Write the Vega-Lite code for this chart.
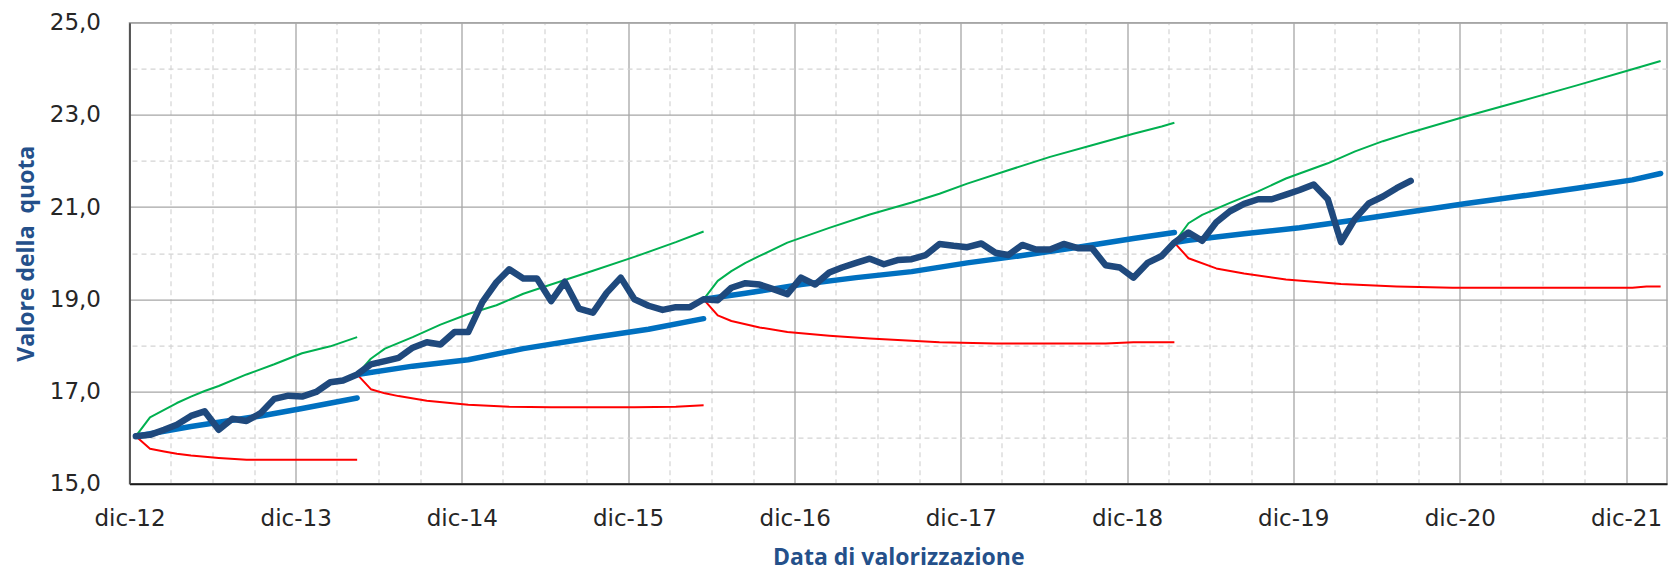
{
  "$schema": "https://vega.github.io/schema/vega-lite/v6.json",
  "width": 1537.5,
  "height": 461,
  "autosize": "none",
  "padding": {"left": 129.5, "top": 22.7, "right": 2, "bottom": 87.3},
  "background": "white",
  "config": {"view": {"stroke": "#A6A6A6", "strokeWidth": 1.5}},
  "data": {"values": [
    {"d":"2012-12-15","s":"quota","g":0,"v":16.03},{"d":"2013-01-15","s":"quota","g":0,"v":16.06},{"d":"2013-02-15","s":"quota","g":0,"v":16.17},{"d":"2013-03-15","s":"quota","g":0,"v":16.28},{"d":"2013-04-15","s":"quota","g":0,"v":16.47},{"d":"2013-05-15","s":"quota","g":0,"v":16.57},{"d":"2013-06-15","s":"quota","g":0,"v":16.17},{"d":"2013-07-15","s":"quota","g":0,"v":16.41},{"d":"2013-08-15","s":"quota","g":0,"v":16.36},{"d":"2013-09-15","s":"quota","g":0,"v":16.53},{"d":"2013-10-15","s":"quota","g":0,"v":16.84},{"d":"2013-11-15","s":"quota","g":0,"v":16.91},{"d":"2013-12-15","s":"quota","g":0,"v":16.89},
    {"d":"2014-01-15","s":"quota","g":0,"v":16.99},{"d":"2014-02-15","s":"quota","g":0,"v":17.20},{"d":"2014-03-15","s":"quota","g":0,"v":17.24},{"d":"2014-04-15","s":"quota","g":0,"v":17.37},{"d":"2014-05-15","s":"quota","g":0,"v":17.59},{"d":"2014-06-15","s":"quota","g":0,"v":17.66},{"d":"2014-07-15","s":"quota","g":0,"v":17.73},{"d":"2014-08-15","s":"quota","g":0,"v":17.95},{"d":"2014-09-15","s":"quota","g":0,"v":18.07},{"d":"2014-10-15","s":"quota","g":0,"v":18.02},{"d":"2014-11-15","s":"quota","g":0,"v":18.29},{"d":"2014-12-15","s":"quota","g":0,"v":18.29},
    {"d":"2015-01-15","s":"quota","g":0,"v":18.94},{"d":"2015-02-15","s":"quota","g":0,"v":19.37},{"d":"2015-03-15","s":"quota","g":0,"v":19.65},{"d":"2015-04-15","s":"quota","g":0,"v":19.45},{"d":"2015-05-15","s":"quota","g":0,"v":19.45},{"d":"2015-06-15","s":"quota","g":0,"v":18.96},{"d":"2015-07-15","s":"quota","g":0,"v":19.38},{"d":"2015-08-15","s":"quota","g":0,"v":18.80},{"d":"2015-09-15","s":"quota","g":0,"v":18.71},{"d":"2015-10-15","s":"quota","g":0,"v":19.14},{"d":"2015-11-15","s":"quota","g":0,"v":19.47},{"d":"2015-12-15","s":"quota","g":0,"v":19.00},
    {"d":"2016-01-15","s":"quota","g":0,"v":18.86},{"d":"2016-02-15","s":"quota","g":0,"v":18.77},{"d":"2016-03-15","s":"quota","g":0,"v":18.83},{"d":"2016-04-15","s":"quota","g":0,"v":18.83},{"d":"2016-05-15","s":"quota","g":0,"v":19.00},{"d":"2016-06-15","s":"quota","g":0,"v":18.98},{"d":"2016-07-15","s":"quota","g":0,"v":19.25},{"d":"2016-08-15","s":"quota","g":0,"v":19.35},{"d":"2016-09-15","s":"quota","g":0,"v":19.32},{"d":"2016-10-15","s":"quota","g":0,"v":19.22},{"d":"2016-11-15","s":"quota","g":0,"v":19.11},{"d":"2016-12-15","s":"quota","g":0,"v":19.47},
    {"d":"2017-01-15","s":"quota","g":0,"v":19.32},{"d":"2017-02-15","s":"quota","g":0,"v":19.58},{"d":"2017-03-15","s":"quota","g":0,"v":19.69},{"d":"2017-04-15","s":"quota","g":0,"v":19.79},{"d":"2017-05-15","s":"quota","g":0,"v":19.88},{"d":"2017-06-15","s":"quota","g":0,"v":19.76},{"d":"2017-07-15","s":"quota","g":0,"v":19.85},{"d":"2017-08-15","s":"quota","g":0,"v":19.87},{"d":"2017-09-15","s":"quota","g":0,"v":19.96},{"d":"2017-10-15","s":"quota","g":0,"v":20.20},{"d":"2017-11-15","s":"quota","g":0,"v":20.16},{"d":"2017-12-15","s":"quota","g":0,"v":20.13},
    {"d":"2018-01-15","s":"quota","g":0,"v":20.21},{"d":"2018-02-15","s":"quota","g":0,"v":20.01},{"d":"2018-03-15","s":"quota","g":0,"v":19.96},{"d":"2018-04-15","s":"quota","g":0,"v":20.18},{"d":"2018-05-15","s":"quota","g":0,"v":20.08},{"d":"2018-06-15","s":"quota","g":0,"v":20.08},{"d":"2018-07-15","s":"quota","g":0,"v":20.20},{"d":"2018-08-15","s":"quota","g":0,"v":20.11},{"d":"2018-09-15","s":"quota","g":0,"v":20.11},{"d":"2018-10-15","s":"quota","g":0,"v":19.74},{"d":"2018-11-15","s":"quota","g":0,"v":19.69},{"d":"2018-12-15","s":"quota","g":0,"v":19.47},
    {"d":"2019-01-15","s":"quota","g":0,"v":19.79},{"d":"2019-02-15","s":"quota","g":0,"v":19.94},{"d":"2019-03-15","s":"quota","g":0,"v":20.23},{"d":"2019-04-15","s":"quota","g":0,"v":20.45},{"d":"2019-05-15","s":"quota","g":0,"v":20.27},{"d":"2019-06-15","s":"quota","g":0,"v":20.67},{"d":"2019-07-15","s":"quota","g":0,"v":20.91},{"d":"2019-08-15","s":"quota","g":0,"v":21.07},{"d":"2019-09-15","s":"quota","g":0,"v":21.17},{"d":"2019-10-15","s":"quota","g":0,"v":21.17},{"d":"2019-11-15","s":"quota","g":0,"v":21.27},{"d":"2019-12-15","s":"quota","g":0,"v":21.37},
    {"d":"2020-01-15","s":"quota","g":0,"v":21.49},{"d":"2020-02-15","s":"quota","g":0,"v":21.17},{"d":"2020-03-15","s":"quota","g":0,"v":20.24},{"d":"2020-04-15","s":"quota","g":0,"v":20.75},{"d":"2020-05-15","s":"quota","g":0,"v":21.08},{"d":"2020-06-15","s":"quota","g":0,"v":21.23},{"d":"2020-07-15","s":"quota","g":0,"v":21.41},{"d":"2020-08-15","s":"quota","g":0,"v":21.57},

    {"d":"2012-12-15","s":"atteso","g":1,"v":16.03},{"d":"2013-04-15","s":"atteso","g":1,"v":16.24},{"d":"2013-09-15","s":"atteso","g":1,"v":16.47},{"d":"2013-12-15","s":"atteso","g":1,"v":16.63},{"d":"2014-04-15","s":"atteso","g":1,"v":16.86},
    {"d":"2014-04-15","s":"atteso","g":2,"v":17.37},{"d":"2014-08-15","s":"atteso","g":2,"v":17.55},{"d":"2014-12-15","s":"atteso","g":2,"v":17.69},{"d":"2015-04-15","s":"atteso","g":2,"v":17.93},{"d":"2015-09-15","s":"atteso","g":2,"v":18.17},{"d":"2016-01-15","s":"atteso","g":2,"v":18.35},{"d":"2016-05-15","s":"atteso","g":2,"v":18.58},
    {"d":"2016-05-15","s":"atteso","g":3,"v":19.00},{"d":"2016-08-15","s":"atteso","g":3,"v":19.13},{"d":"2016-12-15","s":"atteso","g":3,"v":19.32},{"d":"2017-04-15","s":"atteso","g":3,"v":19.47},{"d":"2017-08-15","s":"atteso","g":3,"v":19.60},{"d":"2017-12-15","s":"atteso","g":3,"v":19.79},{"d":"2018-04-15","s":"atteso","g":3,"v":19.95},{"d":"2018-08-15","s":"atteso","g":3,"v":20.13},{"d":"2018-12-15","s":"atteso","g":3,"v":20.32},{"d":"2019-03-15","s":"atteso","g":3,"v":20.45},
    {"d":"2019-03-15","s":"atteso","g":4,"v":20.23},{"d":"2019-04-15","s":"atteso","g":4,"v":20.28},{"d":"2019-08-15","s":"atteso","g":4,"v":20.42},{"d":"2019-12-15","s":"atteso","g":4,"v":20.55},{"d":"2020-04-15","s":"atteso","g":4,"v":20.72},{"d":"2020-08-15","s":"atteso","g":4,"v":20.90},{"d":"2020-12-15","s":"atteso","g":4,"v":21.08},{"d":"2021-04-15","s":"atteso","g":4,"v":21.24},{"d":"2021-08-15","s":"atteso","g":4,"v":21.41},{"d":"2021-12-15","s":"atteso","g":4,"v":21.59},{"d":"2022-02-15","s":"atteso","g":4,"v":21.73},

    {"d":"2012-12-15","s":"max","g":1,"v":16.03},{"d":"2013-01-15","s":"max","g":1,"v":16.44},{"d":"2013-02-15","s":"max","g":1,"v":16.60},{"d":"2013-03-15","s":"max","g":1,"v":16.75},{"d":"2013-04-15","s":"max","g":1,"v":16.89},{"d":"2013-05-15","s":"max","g":1,"v":17.01},{"d":"2013-06-15","s":"max","g":1,"v":17.12},{"d":"2013-08-15","s":"max","g":1,"v":17.37},{"d":"2013-10-15","s":"max","g":1,"v":17.59},{"d":"2013-12-15","s":"max","g":1,"v":17.83},{"d":"2014-02-15","s":"max","g":1,"v":17.98},{"d":"2014-04-15","s":"max","g":1,"v":18.18},
    {"d":"2014-04-15","s":"max","g":2,"v":17.37},{"d":"2014-05-15","s":"max","g":2,"v":17.71},{"d":"2014-06-15","s":"max","g":2,"v":17.93},{"d":"2014-08-15","s":"max","g":2,"v":18.18},{"d":"2014-10-15","s":"max","g":2,"v":18.45},{"d":"2014-12-15","s":"max","g":2,"v":18.68},{"d":"2015-02-15","s":"max","g":2,"v":18.87},{"d":"2015-04-15","s":"max","g":2,"v":19.12},{"d":"2015-06-15","s":"max","g":2,"v":19.32},{"d":"2015-09-15","s":"max","g":2,"v":19.62},{"d":"2015-12-15","s":"max","g":2,"v":19.92},{"d":"2016-03-15","s":"max","g":2,"v":20.24},{"d":"2016-05-15","s":"max","g":2,"v":20.47},
    {"d":"2016-05-15","s":"max","g":3,"v":19.00},{"d":"2016-06-15","s":"max","g":3,"v":19.40},{"d":"2016-07-15","s":"max","g":3,"v":19.61},{"d":"2016-08-15","s":"max","g":3,"v":19.79},{"d":"2016-09-15","s":"max","g":3,"v":19.94},{"d":"2016-11-15","s":"max","g":3,"v":20.23},{"d":"2017-02-15","s":"max","g":3,"v":20.55},{"d":"2017-05-15","s":"max","g":3,"v":20.84},{"d":"2017-08-15","s":"max","g":3,"v":21.10},{"d":"2017-10-15","s":"max","g":3,"v":21.29},{"d":"2017-12-15","s":"max","g":3,"v":21.51},{"d":"2018-03-15","s":"max","g":3,"v":21.80},{"d":"2018-06-15","s":"max","g":3,"v":22.09},{"d":"2018-09-15","s":"max","g":3,"v":22.34},{"d":"2018-12-15","s":"max","g":3,"v":22.59},{"d":"2019-02-15","s":"max","g":3,"v":22.75},{"d":"2019-03-15","s":"max","g":3,"v":22.83},
    {"d":"2019-03-15","s":"max","g":4,"v":20.23},{"d":"2019-04-15","s":"max","g":4,"v":20.65},{"d":"2019-05-15","s":"max","g":4,"v":20.83},{"d":"2019-07-15","s":"max","g":4,"v":21.09},{"d":"2019-09-15","s":"max","g":4,"v":21.34},{"d":"2019-11-15","s":"max","g":4,"v":21.62},{"d":"2019-12-15","s":"max","g":4,"v":21.73},{"d":"2020-02-15","s":"max","g":4,"v":21.95},{"d":"2020-04-15","s":"max","g":4,"v":22.21},{"d":"2020-06-15","s":"max","g":4,"v":22.43},{"d":"2020-08-15","s":"max","g":4,"v":22.62},{"d":"2020-12-15","s":"max","g":4,"v":22.97},{"d":"2021-04-15","s":"max","g":4,"v":23.30},{"d":"2021-08-15","s":"max","g":4,"v":23.64},{"d":"2021-12-15","s":"max","g":4,"v":23.99},{"d":"2022-02-15","s":"max","g":4,"v":24.17},

    {"d":"2012-12-15","s":"min","g":1,"v":16.03},{"d":"2013-01-15","s":"min","g":1,"v":15.76},{"d":"2013-02-15","s":"min","g":1,"v":15.70},{"d":"2013-03-15","s":"min","g":1,"v":15.65},{"d":"2013-04-15","s":"min","g":1,"v":15.61},{"d":"2013-06-15","s":"min","g":1,"v":15.56},{"d":"2013-08-15","s":"min","g":1,"v":15.52},{"d":"2014-04-15","s":"min","g":1,"v":15.52},
    {"d":"2014-04-15","s":"min","g":2,"v":17.37},{"d":"2014-05-15","s":"min","g":2,"v":17.05},{"d":"2014-06-15","s":"min","g":2,"v":16.96},{"d":"2014-07-15","s":"min","g":2,"v":16.90},{"d":"2014-09-15","s":"min","g":2,"v":16.80},{"d":"2014-12-15","s":"min","g":2,"v":16.71},{"d":"2015-03-15","s":"min","g":2,"v":16.67},{"d":"2015-06-15","s":"min","g":2,"v":16.66},{"d":"2015-12-15","s":"min","g":2,"v":16.66},{"d":"2016-03-15","s":"min","g":2,"v":16.67},{"d":"2016-05-15","s":"min","g":2,"v":16.70},
    {"d":"2016-05-15","s":"min","g":3,"v":19.00},{"d":"2016-06-15","s":"min","g":3,"v":18.65},{"d":"2016-07-15","s":"min","g":3,"v":18.53},{"d":"2016-09-15","s":"min","g":3,"v":18.39},{"d":"2016-11-15","s":"min","g":3,"v":18.29},{"d":"2017-02-15","s":"min","g":3,"v":18.21},{"d":"2017-05-15","s":"min","g":3,"v":18.15},{"d":"2017-08-15","s":"min","g":3,"v":18.10},{"d":"2017-10-15","s":"min","g":3,"v":18.07},{"d":"2018-02-15","s":"min","g":3,"v":18.04},{"d":"2018-10-15","s":"min","g":3,"v":18.04},{"d":"2018-12-15","s":"min","g":3,"v":18.07},{"d":"2019-03-15","s":"min","g":3,"v":18.07},
    {"d":"2019-03-15","s":"min","g":4,"v":20.23},{"d":"2019-04-15","s":"min","g":4,"v":19.89},{"d":"2019-06-15","s":"min","g":4,"v":19.67},{"d":"2019-08-15","s":"min","g":4,"v":19.56},{"d":"2019-11-15","s":"min","g":4,"v":19.43},{"d":"2020-03-15","s":"min","g":4,"v":19.33},{"d":"2020-07-15","s":"min","g":4,"v":19.28},{"d":"2020-11-15","s":"min","g":4,"v":19.25},{"d":"2021-12-15","s":"min","g":4,"v":19.25},{"d":"2022-01-15","s":"min","g":4,"v":19.28},{"d":"2022-02-15","s":"min","g":4,"v":19.28}
  ]},
  "layer": [
    {
      "transform": [{"filter": "datum.s === 'min'"}],
      "mark": {"type": "line", "color": "#FF0000", "strokeWidth": 2, "strokeJoin": "round"},
      "encoding": {
        "x": {"field": "d", "type": "temporal",
          "scale": {"domain": [{"year": 2012, "month": 12, "date": 1, "utc": true}, {"year": 2022, "month": 3, "date": 1, "utc": true}]},
          "axis": {
            "values": [
              {"year": 2012, "month": 12, "date": 1, "utc": true},{"year": 2013, "month": 12, "date": 1, "utc": true},{"year": 2014, "month": 12, "date": 1, "utc": true},{"year": 2015, "month": 12, "date": 1, "utc": true},{"year": 2016, "month": 12, "date": 1, "utc": true},{"year": 2017, "month": 12, "date": 1, "utc": true},{"year": 2018, "month": 12, "date": 1, "utc": true},{"year": 2019, "month": 12, "date": 1, "utc": true},{"year": 2020, "month": 12, "date": 1, "utc": true},{"year": 2021, "month": 12, "date": 1, "utc": true}
            ],
            "labelExpr": "'dic-' + utcFormat(datum.value, '%y')",
            "labelOverlap": false, "labelFlush": false,
            "grid": true, "gridColor": "#A6A6A6", "gridWidth": 1.3,
            "domain": true, "domainColor": "#1A1A1A", "domainWidth": 2,
            "ticks": false,
            "labelFont": "DejaVu Sans", "labelFontSize": 23, "labelColor": "#262626", "labelPadding": 24,
            "title": "Data di valorizzazione",
            "titleFont": "Open Sans", "titleFontWeight": "bold", "titleFontSize": 23, "titleColor": "#24508A",
            "titleX": 768.75, "titleY": 81, "titleAlign": "center", "titleBaseline": "alphabetic"
          }
        },
        "y": {"field": "v", "type": "quantitative",
          "scale": {"domain": [15, 25], "nice": false, "zero": false},
          "axis": {
            "values": [15, 17, 19, 21, 23, 25],
            "labelExpr": "replace(format(datum.value, '.1f'), '.', ',')",
            "grid": true, "gridColor": "#A6A6A6", "gridWidth": 1.3,
            "domain": true, "domainColor": "#404040", "domainWidth": 1.6,
            "ticks": false,
            "labelFont": "DejaVu Sans", "labelFontSize": 23, "labelColor": "#262626", "labelPadding": 29,
            "title": "Valore della\u00a0 quota",
            "titleFont": "Open Sans", "titleFontWeight": "bold", "titleFontSize": 23, "titleColor": "#24508A",
            "titleX": -96, "titleY": 230.5, "titleAngle": 270, "titleAlign": "center", "titleBaseline": "alphabetic"
          }
        },
        "detail": {"field": "g", "type": "nominal"}
      }
    },
    {
      "transform": [{"filter": "datum.s === 'max'"}],
      "mark": {"type": "line", "color": "#00B050", "strokeWidth": 2, "strokeJoin": "round"},
      "encoding": {
        "x": {"field": "d", "type": "temporal",
          "axis": {
            "orient": "top",
            "values": [
              {"year": 2013, "month": 3, "date": 1, "utc": true},{"year": 2013, "month": 6, "date": 1, "utc": true},{"year": 2013, "month": 9, "date": 1, "utc": true},
              {"year": 2014, "month": 3, "date": 1, "utc": true},{"year": 2014, "month": 6, "date": 1, "utc": true},{"year": 2014, "month": 9, "date": 1, "utc": true},
              {"year": 2015, "month": 3, "date": 1, "utc": true},{"year": 2015, "month": 6, "date": 1, "utc": true},{"year": 2015, "month": 9, "date": 1, "utc": true},
              {"year": 2016, "month": 3, "date": 1, "utc": true},{"year": 2016, "month": 6, "date": 1, "utc": true},{"year": 2016, "month": 9, "date": 1, "utc": true},
              {"year": 2017, "month": 3, "date": 1, "utc": true},{"year": 2017, "month": 6, "date": 1, "utc": true},{"year": 2017, "month": 9, "date": 1, "utc": true},
              {"year": 2018, "month": 3, "date": 1, "utc": true},{"year": 2018, "month": 6, "date": 1, "utc": true},{"year": 2018, "month": 9, "date": 1, "utc": true},
              {"year": 2019, "month": 3, "date": 1, "utc": true},{"year": 2019, "month": 6, "date": 1, "utc": true},{"year": 2019, "month": 9, "date": 1, "utc": true},
              {"year": 2020, "month": 3, "date": 1, "utc": true},{"year": 2020, "month": 6, "date": 1, "utc": true},{"year": 2020, "month": 9, "date": 1, "utc": true},
              {"year": 2021, "month": 3, "date": 1, "utc": true},{"year": 2021, "month": 6, "date": 1, "utc": true},{"year": 2021, "month": 9, "date": 1, "utc": true}
            ],
            "grid": true, "gridColor": "#D4D4D4", "gridWidth": 1.2, "gridDash": [5, 4],
            "labels": false, "ticks": false, "domain": false, "title": null
          }
        },
        "y": {"field": "v", "type": "quantitative",
          "axis": {
            "orient": "right",
            "values": [16, 18, 20, 22, 24],
            "grid": true, "gridColor": "#D4D4D4", "gridWidth": 1.2, "gridDash": [5, 4],
            "labels": false, "ticks": false, "domain": false, "title": null
          }
        },
        "detail": {"field": "g", "type": "nominal"}
      }
    },
    {
      "transform": [{"filter": "datum.s === 'atteso'"}],
      "mark": {"type": "line", "color": "#0070C0", "strokeWidth": 5.5, "strokeCap": "round", "strokeJoin": "round"},
      "encoding": {
        "x": {"field": "d", "type": "temporal", "axis": null},
        "y": {"field": "v", "type": "quantitative", "axis": null},
        "detail": {"field": "g", "type": "nominal"}
      }
    },
    {
      "transform": [{"filter": "datum.s === 'quota'"}],
      "mark": {"type": "line", "color": "#1F497D", "strokeWidth": 6.5, "strokeCap": "round", "strokeJoin": "round"},
      "encoding": {
        "x": {"field": "d", "type": "temporal", "axis": null},
        "y": {"field": "v", "type": "quantitative", "axis": null},
        "detail": {"field": "g", "type": "nominal"}
      }
    }
  ],
  "resolve": {"axis": {"x": "independent", "y": "independent"}}
}
